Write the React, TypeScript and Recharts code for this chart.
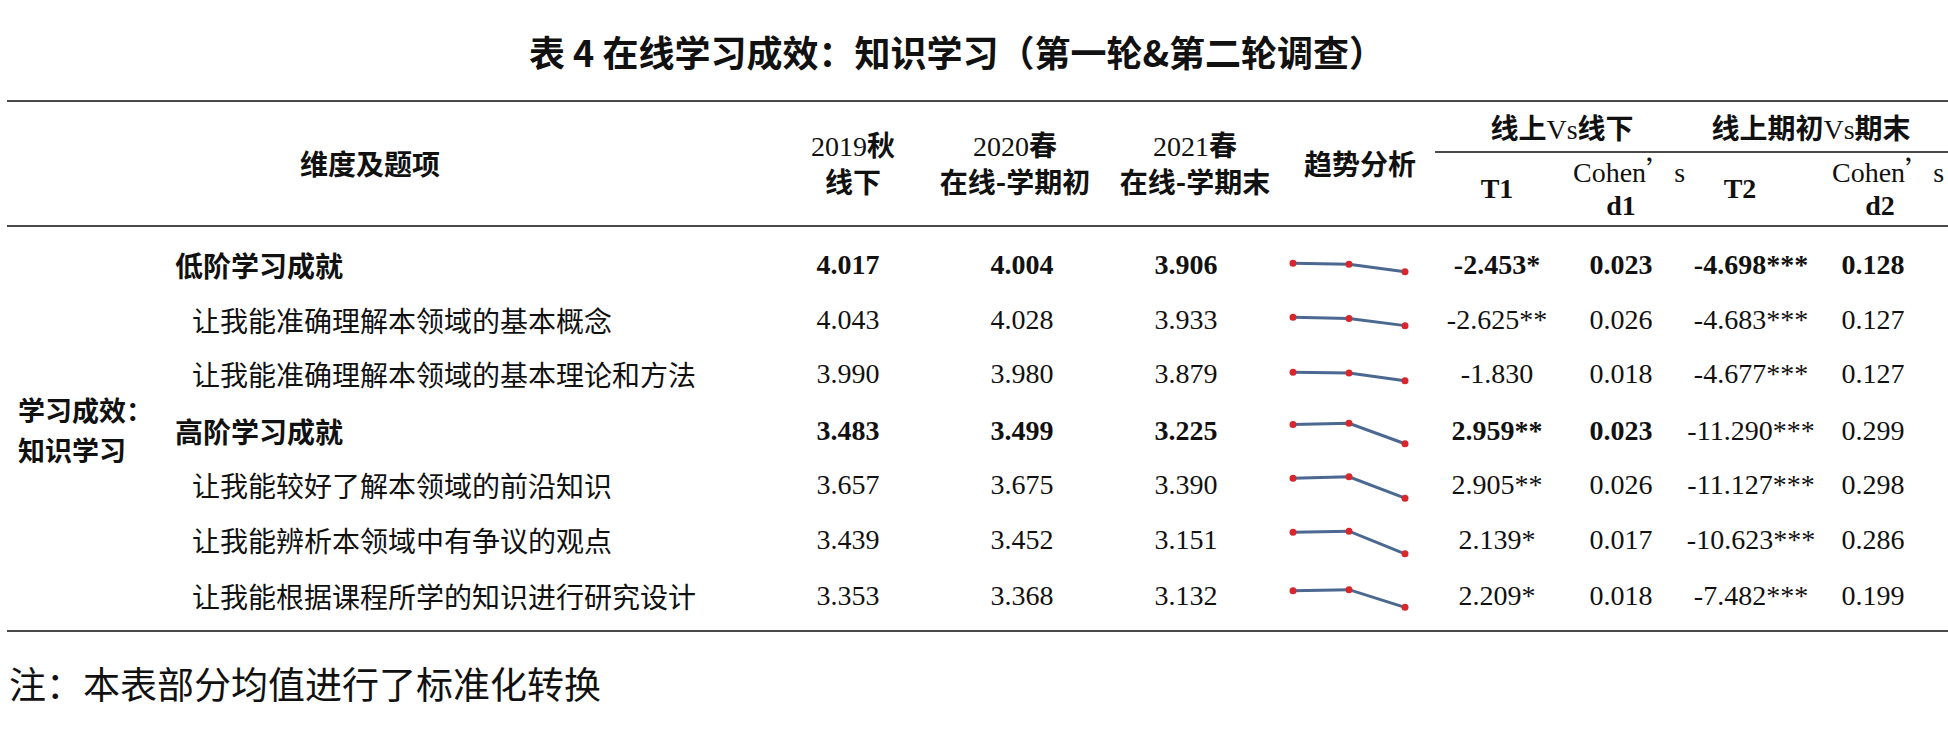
import React from "react";
import { Line, LineChart, XAxis, YAxis } from "recharts";

const ITEMS = [
  "低阶学习成就",
  "让我能准确理解本领域的基本概念",
  "让我能准确理解本领域的基本理论和方法",
  "高阶学习成就",
  "让我能较好了解本领域的前沿知识",
  "让我能辨析本领域中有争议的观点",
  "让我能根据课程所学的知识进行研究设计",
];
const IS_GROUP = [true, false, false, true, false, false, false];

const FALL_2019 = [4.017, 4.043, 3.99, 3.483, 3.657, 3.439, 3.353];
const SPRING_2020 = [4.004, 4.028, 3.98, 3.499, 3.675, 3.452, 3.368];
const SPRING_2021 = [3.906, 3.933, 3.879, 3.225, 3.39, 3.151, 3.132];

const T1 = ["-2.453*", "-2.625**", "-1.830", "2.959**", "2.905**", "2.139*", "2.209*"];
const D1 = ["0.023", "0.026", "0.018", "0.023", "0.026", "0.017", "0.018"];
const T2 = ["-4.698***", "-4.683***", "-4.677***", "-11.290***", "-11.127***", "-10.623***", "-7.482***"];
const D2 = ["0.128", "0.127", "0.127", "0.299", "0.298", "0.286", "0.199"];

// how many value columns (from the left) are set in bold, per row
const BOLD_COLS = [7, 0, 0, 5, 0, 0, 0];

const PERIODS = ["2019秋", "2020春", "2021春"];

const CJK = '"Noto Sans CJK SC", "Noto Sans", sans-serif';
const SERIF = '"Liberation Serif", "DejaVu Serif", serif';

const ROW_Y = [265, 319.5, 374, 431, 485, 540, 596];
const VALUE_X = [848, 1022, 1186, 1497, 1621, 1751, 1873];
const SPAN = 0.733;

function T({
  x,
  y,
  children,
  size = 28,
  bold = false,
  font = CJK,
  align = "center",
}: {
  x: number;
  y: number;
  children: React.ReactNode;
  size?: number;
  bold?: boolean;
  font?: string;
  align?: "center" | "left";
}) {
  return (
    <div
      style={{
        position: "absolute",
        left: x,
        top: y,
        transform: align === "center" ? "translate(-50%, -50%)" : "translate(0, -50%)",
        fontFamily: font,
        fontSize: size,
        fontWeight: bold ? 700 : 400,
        lineHeight: 1,
        whiteSpace: "nowrap",
        color: "#111",
      }}
    >
      {children}
    </div>
  );
}

function Rule({ x, y, w, h = 2 }: { x: number; y: number; w: number; h?: number }) {
  return (
    <div
      style={{
        position: "absolute",
        left: x,
        top: y - h / 2,
        width: w,
        height: h,
        background: "#4a4a4a",
      }}
    />
  );
}

function Spark({ row }: { row: number }) {
  const vals = [FALL_2019[row], SPRING_2020[row], SPRING_2021[row]];
  const data = PERIODS.map((p, i) => ({ p, v: vals[i] }));
  const mid = (Math.max(...vals) + Math.min(...vals)) / 2;
  return (
    <div style={{ position: "absolute", left: 1283, top: ROW_Y[row] - 27.5 + 2 }}>
      <LineChart width={132} height={55} data={data} margin={{ top: 0, right: 10, left: 10, bottom: 0 }}>
        <XAxis dataKey="p" hide />
        <YAxis hide domain={[mid - SPAN / 2, mid + SPAN / 2]} />
        <Line
          dataKey="v"
          stroke="#4a6890"
          strokeWidth={3}
          dot={{ r: 3.5, fill: "#d8262b", stroke: "none" }}
          isAnimationActive={false}
        />
      </LineChart>
    </div>
  );
}

export default function App() {
  return (
    <div
      style={{
        position: "absolute",
        left: 0,
        top: 0,
        width: 1948,
        height: 735,
        background: "#fff",
        overflow: "hidden",
      }}
    >
      <T x={957} y={51} size={36} bold>
        表 4 在线学习成效：知识学习（第一轮&第二轮调查）
      </T>

      <Rule x={7} y={101} w={1941} />
      <Rule x={1435} y={152} w={513} h={1.6} />
      <Rule x={7} y={226} w={1941} />
      <Rule x={7} y={631} w={1941} />

      <T x={370} y={163} bold>维度及题项</T>
      {[
        ["2019", "秋", "线下", 853],
        ["2020", "春", "在线-学期初", 1015],
        ["2021", "春", "在线-学期末", 1195],
      ].map(([num, season, sub, cx]) => (
        <React.Fragment key={num as string}>
          <T x={cx as number} y={145} bold>
            <span style={{ fontFamily: SERIF, fontWeight: 400 }}>{num}</span>
            {season}
          </T>
          <T x={cx as number} y={181} bold>
            {sub}
          </T>
        </React.Fragment>
      ))}
      <T x={1360} y={163} bold>趋势分析</T>
      <T x={1562} y={128} bold>
        线上<span style={{ fontFamily: SERIF, fontWeight: 400 }}>Vs</span>线下
      </T>
      <T x={1811} y={128} bold>
        线上期初<span style={{ fontFamily: SERIF, fontWeight: 400 }}>Vs</span>期末
      </T>
      <T x={1497} y={189} font={SERIF} bold>T1</T>
      <T x={1573} y={171} font={SERIF} align="left">
        Cohen<span style={{ fontFamily: CJK }}>’</span>s
      </T>
      <T x={1621} y={206} font={SERIF} bold>d1</T>
      <T x={1740} y={189} font={SERIF} bold>T2</T>
      <T x={1832} y={171} font={SERIF} align="left">
        Cohen<span style={{ fontFamily: CJK }}>’</span>s
      </T>
      <T x={1880} y={206} font={SERIF} bold>d2</T>

      <T x={18} y={409} size={27} bold align="left">学习成效：</T>
      <T x={18} y={449} size={27} bold align="left">知识学习</T>

      {ITEMS.map((label, i) => {
        const cells = [
          FALL_2019[i].toFixed(3),
          SPRING_2020[i].toFixed(3),
          SPRING_2021[i].toFixed(3),
          T1[i],
          D1[i],
          T2[i],
          D2[i],
        ];
        return (
          <React.Fragment key={label}>
            <T x={IS_GROUP[i] ? 175 : 192} y={ROW_Y[i]} bold={IS_GROUP[i]} align="left">
              {label}
            </T>
            {cells.map((c, j) => (
              <T key={j} x={VALUE_X[j]} y={ROW_Y[i]} font={SERIF} bold={j < BOLD_COLS[i]}>
                {c}
              </T>
            ))}
            <Spark row={i} />
          </React.Fragment>
        );
      })}

      <T x={9} y={683} size={37} align="left">
        注：本表部分均值进行了标准化转换
      </T>
    </div>
  );
}
